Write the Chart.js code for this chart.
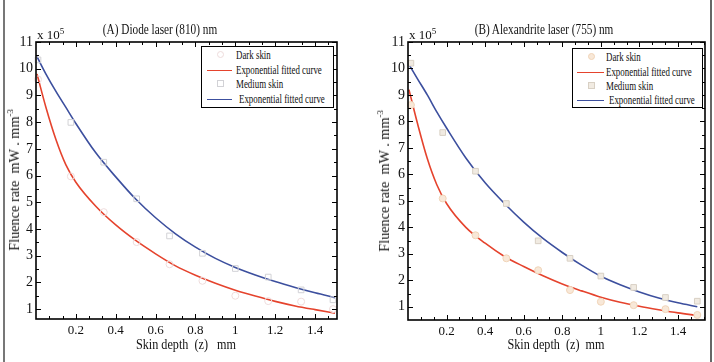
<!DOCTYPE html>
<html>
<head>
<meta charset="utf-8">
<script src="https://cdn.jsdelivr.net/npm/chart.js@4.4.0/dist/chart.umd.min.js"></script>
<style>
  body { margin:0; background:#fff; width:714px; height:362px; overflow:hidden; position:relative; font-family:"Liberation Serif", "Times New Roman", serif; color:#111; }
  canvas { position:absolute; top:0; }
  #chartA { left:0; }
  #chartB { left:356px; }
  .txt { position:absolute; white-space:nowrap; transform-origin:center center; }
  .title { font-size:15px; transform:translate(-50%,-50%) scaleX(0.75); }
  .ylab { font-size:15px; transform:translate(-50%,-50%) rotate(-90deg) scaleX(0.95); }
  .xlab { font-size:14px; transform:translate(-50%,-50%) scaleX(0.87); }
  .expo { font-size:13px; }
  sup { font-size:9px; }
  .legend { position:absolute; border:1.5px solid #000; background:#fff; font-size:12px; box-sizing:border-box; }
  .row { position:absolute; left:0; right:0; height:14px; }
  .row .lbl { position:absolute; top:0; line-height:14px; white-space:nowrap; transform-origin:left center; transform:scaleX(0.74); }
  .row .ln { position:absolute; top:7px; height:0; border-top:1.6px solid; }
  .row .mk { position:absolute; top:3px; width:7px; height:7px; box-sizing:border-box; }
  .edge { position:absolute; top:0; height:362px; width:2px; background:#777; }
</style>
</head>
<body>
<div class="edge" style="left:3px"></div>
<div class="edge" style="left:710px; width:2px; background:#666"></div>
<canvas id="chartA" width="356" height="362"></canvas>
<canvas id="chartB" width="358" height="362"></canvas>

<div class="txt title" style="left:160px; top:29px">(A) Diode laser (810) nm</div>
<div class="txt title" style="left:544px; top:29px">(B) Alexandrite laser (755) nm</div>
<div class="txt expo" style="left:37px; top:26px">x 10<sup>5</sup></div>
<div class="txt expo" style="left:409px; top:26px">x 10<sup>5</sup></div>
<div class="txt ylab" style="left:14px; top:180px">Fluence rate&nbsp; mW . mm<sup>-3</sup></div>
<div class="txt ylab" style="left:384px; top:181px">Fluence rate&nbsp; mW . mm<sup>-3</sup></div>
<div class="txt xlab" style="left:186px; top:345px">Skin depth&nbsp; (z) &nbsp; mm</div>
<div class="txt xlab" style="left:556px; top:345px">Skin depth &nbsp;(z)&nbsp; mm</div>

<div class="legend" style="left:201px; top:46px; width:133px; height:62px">
  <div class="row" style="top:1px"><span class="mk" style="left:15px; border:1px solid #eedcdc; border-radius:50%"></span><span class="lbl" style="left:34px">Dark skin</span></div>
  <div class="row" style="top:16px"><span class="ln" style="left:5px; width:25px; border-color:#e5432d"></span><span class="lbl" style="left:34px">Exponential fitted curve</span></div>
  <div class="row" style="top:30px"><span class="mk" style="left:15px; border:1px solid #d2d2d6"></span><span class="lbl" style="left:34px">Medium skin</span></div>
  <div class="row" style="top:45px"><span class="ln" style="left:5px; width:25px; border-color:#3c4f9e"></span><span class="lbl" style="left:37px">Exponential fitted curve</span></div>
</div>
<div class="legend" style="left:572px; top:48px; width:131px; height:60px">
  <div class="row" style="top:1px"><span class="mk" style="left:15px; background:#f8e8d8; border:1px solid #f0d4b8; border-radius:50%"></span><span class="lbl" style="left:33px">Dark skin</span></div>
  <div class="row" style="top:16px"><span class="ln" style="left:4px; width:27px; border-color:#e5432d"></span><span class="lbl" style="left:33px">Exponential fitted curve</span></div>
  <div class="row" style="top:30px"><span class="mk" style="left:15px; background:#f1ebe2; border:1px solid #d8d0c4"></span><span class="lbl" style="left:33px">Medium skin</span></div>
  <div class="row" style="top:44px"><span class="ln" style="left:4px; width:27px; border-color:#3c4f9e"></span><span class="lbl" style="left:36px">Exponential fitted curve</span></div>
</div>

<script>
// tick labels
const xTicks = [0.2, 0.4, 0.6, 0.8, 1, 1.2, 1.4];
const yTicks = [1, 2, 3, 4, 5, 6, 7, 8, 9, 10, 11];

// measured points (x 10^5 mW/mm^3)
const xPtsA = [0.01, 0.175, 0.34, 0.505, 0.67, 0.835, 1.0, 1.165, 1.33, 1.49];
const darkA = [9.6, 5.97, 4.63, 3.51, 2.68, 2.06, 1.5, 1.3, 1.28, 1.0];
const mediumA = [10.33, 7.99, 6.5, 5.13, 3.74, 3.09, 2.52, 2.2, 1.72, 1.35];

const xPtsB = [0.015, 0.18, 0.35, 0.51, 0.675, 0.84, 1.0, 1.17, 1.335, 1.5];
const darkB = [8.62, 5.09, 3.7, 2.83, 2.38, 1.63, 1.19, 1.06, 0.91, 0.69];
const mediumB = [10.2, 7.58, 6.12, 4.9, 3.49, 2.83, 2.16, 1.73, 1.35, 1.21];

// fitted curves
const curveX = [0.005, 0.05, 0.1, 0.15, 0.2, 0.3, 0.4, 0.5, 0.6, 0.7, 0.8, 0.9, 1.0, 1.1, 1.2, 1.3, 1.4, 1.5];
const redA  = [9.8, 8.55, 7.35, 6.4, 5.75, 4.85, 4.15, 3.57, 3.07, 2.62, 2.27, 1.97, 1.71, 1.49, 1.29, 1.12, 0.98, 0.85];
const blueA = [10.45, 9.8, 9.15, 8.55, 7.95, 6.85, 5.95, 5.12, 4.42, 3.82, 3.32, 2.9, 2.56, 2.28, 2.03, 1.81, 1.61, 1.43];
const redB  = [9.2, 7.9, 6.6, 5.6, 4.9, 4.0, 3.4, 2.9, 2.52, 2.17, 1.86, 1.6, 1.36, 1.17, 1.02, 0.89, 0.77, 0.67];
const blueB = [10.15, 9.6, 9.0, 8.35, 7.75, 6.62, 5.68, 4.9, 4.2, 3.58, 3.05, 2.57, 2.15, 1.83, 1.56, 1.33, 1.15, 1.0];

const RED = '#e5432d';
const BLUE = '#3c4f9e';
const FONT = 'Liberation Serif';

const pairs = (xs, ys) => xs.map((x, i) => ({ x: x, y: ys[i] }));

// MATLAB style box with ticks pointing inwards
const boxTicks = {
  id: 'boxTicks',
  afterDraw(chart) {
    const { ctx, chartArea: a, scales } = chart;
    const x = scales.x, y = scales.y;
    ctx.save();
    ctx.strokeStyle = '#000';
    ctx.lineWidth = 1;
    ctx.beginPath();
    const xMinorStep = 0.2 / 3;
    for (let k = 1; k * xMinorStep < x.max; k++) {
      const v = k * xMinorStep;
      const major = k % 3 === 0;
      const len = major ? 5 : 3;
      const px = Math.round(x.getPixelForValue(v)) + 0.5;
      ctx.moveTo(px, a.bottom); ctx.lineTo(px, a.bottom - len);
      ctx.moveTo(px, a.top); ctx.lineTo(px, a.top + len);
    }
    for (let v = 1; v <= y.max; v += 0.5) {
      const major = Number.isInteger(v);
      const len = major ? 5 : 3;
      const py = Math.round(y.getPixelForValue(v)) + 0.5;
      ctx.moveTo(a.left, py); ctx.lineTo(a.left + len, py);
      ctx.moveTo(a.right, py); ctx.lineTo(a.right - len, py);
    }
    ctx.stroke();
    ctx.lineWidth = 1.6;
    ctx.strokeRect(a.left, a.top, a.right - a.left, a.bottom - a.top);
    ctx.restore();
  }
};

function makeChart(id, o) {
  return new Chart(document.getElementById(id), {
    type: 'scatter',
    data: {
      datasets: [
        { label: 'Dark skin', data: pairs(o.xPts, o.dark), pointStyle: 'circle', pointRadius: 3.5,
          borderColor: o.darkEdge, backgroundColor: o.darkFill, borderWidth: 1, clip: 6 },
        { label: 'Exponential fitted curve', data: pairs(curveX, o.red), showLine: true, pointRadius: 0,
          borderColor: RED, borderWidth: 1.6, cubicInterpolationMode: 'monotone' },
        { label: 'Medium skin', data: pairs(o.xPts, o.medium), pointStyle: 'rect', pointRadius: 4,
          borderColor: o.medEdge, backgroundColor: o.medFill, borderWidth: 1, clip: 6 },
        { label: 'Exponential fitted curve', data: pairs(curveX, o.blue), showLine: true, pointRadius: 0,
          borderColor: BLUE, borderWidth: 1.6, cubicInterpolationMode: 'monotone' }
      ]
    },
    options: {
      responsive: false,
      animation: false,
      layout: { padding: o.pad },
      plugins: { legend: { display: false }, tooltip: { enabled: false } },
      scales: {
        x: {
          type: 'linear', min: 0, max: o.xMax,
          afterBuildTicks: (s) => { s.ticks = xTicks.map(v => ({ value: v })); },
          afterFit: (s) => { s.height = 20; },
          grid: { display: false, drawTicks: false },
          border: { display: false },
          ticks: { color: '#111', padding: 4, font: { family: FONT, size: 13 }, maxRotation: 0,
                   callback: (v) => String(v) }
        },
        y: {
          type: 'linear', min: o.yMin, max: 11,
          afterBuildTicks: (s) => { s.ticks = yTicks.map(v => ({ value: v })); },
          afterFit: (s) => { s.width = 36; },
          grid: { display: false, drawTicks: false },
          border: { display: false },
          ticks: { color: '#111', padding: 3, font: { family: FONT, size: 14 } }
        }
      }
    },
    plugins: [boxTicks]
  });
}

makeChart('chartA', {
  xPts: xPtsA, dark: darkA, medium: mediumA, red: redA, blue: blueA,
  xMax: 1.51, yMin: 0.63,
  darkEdge: '#eedcdc', darkFill: 'rgba(0,0,0,0)', medEdge: '#d2d2d6', medFill: 'rgba(0,0,0,0)',
  pad: { left: 0, right: 19, top: 42, bottom: 23 }
});

makeChart('chartB', {
  xPts: xPtsB, dark: darkB, medium: mediumB, red: redB, blue: blueB,
  xMax: 1.54, yMin: 0.5,
  darkEdge: '#f0d4b8', darkFill: '#f8e8d8', medEdge: '#d8d0c4', medFill: '#f1ebe2',
  pad: { left: 16, right: 9, top: 42, bottom: 22 }
});
</script>
</body>
</html>
